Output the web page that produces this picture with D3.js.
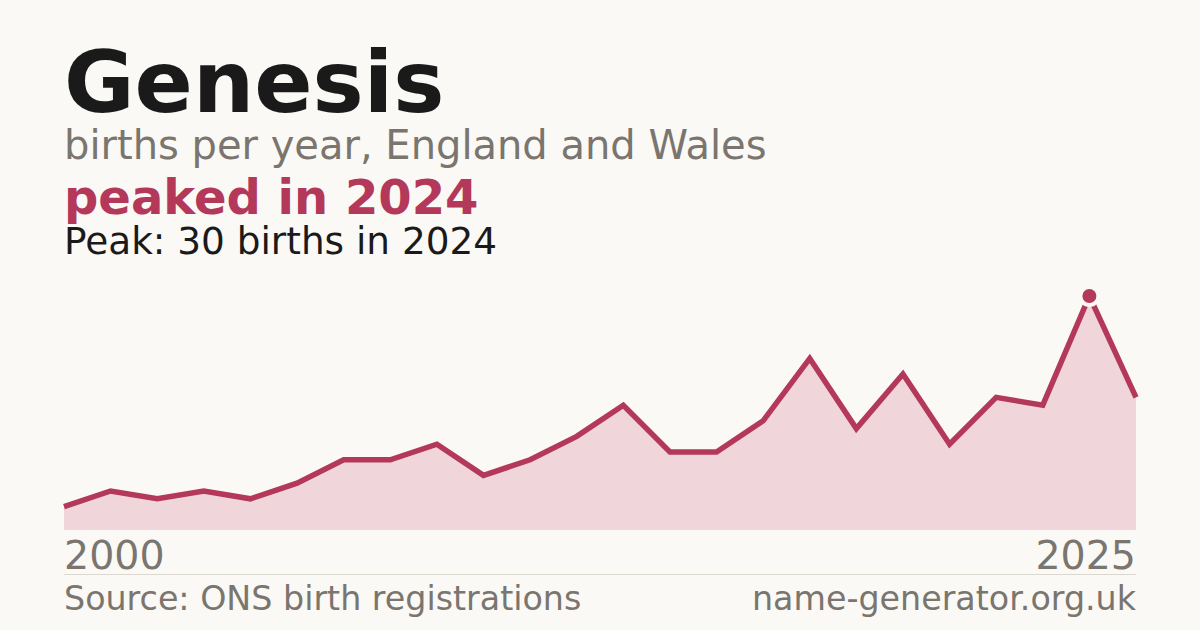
<!DOCTYPE html>
<html><head><meta charset="utf-8">
<script src="https://cdn.jsdelivr.net/npm/d3@7"></script>
<style>
html,body{margin:0;padding:0;background:#faf9f5;}
svg{display:block;font-family:"DejaVu Sans",sans-serif;}
</style></head>
<body>
<svg id="chart" width="1200" height="630"></svg>
<script>
const years = [2002,2003,2004,2005,2006,2007,2008,2009,2010,2011,2012,2013,2014,2015,2016,2017,2018,2019,2020,2021,2022,2023,2024,2025];
const births = [3,5,4,5,4,6,9,9,11,7,9,12,16,10,10,14,22,13,20,11,17,16,30,17];
const tickLabels = ["2000","2025"];
const titleText = "Genesis";
const subtitleText = "births per year, England and Wales";
const headlineText = "peaked in 2024";
const peakText = "Peak: 30 births in 2024";
const sourceText = "Source: ONS birth registrations";
const siteText = "name-generator.org.uk";

const data = years.map((y,i)=>({year:y, v:births[i]}));
const svg = d3.select("#chart");
svg.append("rect").attr("width",1200).attr("height",630).attr("fill","#faf9f5");

const x = d3.scaleLinear().domain(d3.extent(years)).range([64,1136]);
const y = d3.scaleLinear().domain([0, d3.max(births)]).range([530,296]);

const accent = "#b3385a";

svg.append("path").datum(data)
  .attr("d", d3.area().x(d=>x(d.year)).y0(y(0)).y1(d=>y(d.v)))
  .attr("fill","#f0d5da");
svg.append("path").datum(data)
  .attr("d", d3.line().x(d=>x(d.year)).y(d=>y(d.v)))
  .attr("fill","none").attr("stroke",accent).attr("stroke-width",5.5)
  .attr("stroke-linejoin","miter");

const peak = data.reduce((a,b)=>b.v>a.v?b:a);
svg.append("circle").attr("cx",x(peak.year)).attr("cy",y(peak.v)).attr("r",11)
  .attr("fill","#faf9f5");
svg.append("circle").attr("cx",x(peak.year)).attr("cy",y(peak.v)).attr("r",7)
  .attr("fill",accent);

// texts
svg.append("text").attr("x",64).attr("y",112).attr("font-size",86).attr("font-weight","bold")
  .attr("fill","#1a1a1a").text(titleText);
svg.append("text").attr("x",64).attr("y",159).attr("font-size",40)
  .attr("fill","#7a756e").text(subtitleText);
svg.append("text").attr("x",64).attr("y",214).attr("font-size",48).attr("font-weight","bold")
  .attr("fill",accent).text(headlineText);
svg.append("text").attr("x",64).attr("y",254).attr("font-size",37.4)
  .attr("fill","#1a1a1a").text(peakText);

// axis labels
const [r0,r1] = x.range();
svg.append("text").attr("x",r0).attr("y",569).attr("font-size",39.5)
  .attr("fill","#7a756e").text(tickLabels[0]);
svg.append("text").attr("x",r1).attr("y",569).attr("font-size",39.5).attr("text-anchor","end")
  .attr("fill","#7a756e").text(tickLabels[1]);

svg.append("line").attr("x1",r0).attr("x2",r1).attr("y1",574.5).attr("y2",574.5)
  .attr("stroke","#dcd8d0").attr("stroke-width",1);

svg.append("text").attr("x",r0).attr("y",610).attr("font-size",33.3)
  .attr("fill","#7a756e").text(sourceText);
svg.append("text").attr("x",r1).attr("y",610).attr("font-size",33.3).attr("text-anchor","end")
  .attr("fill","#7a756e").text(siteText);
</script>
</body></html>
